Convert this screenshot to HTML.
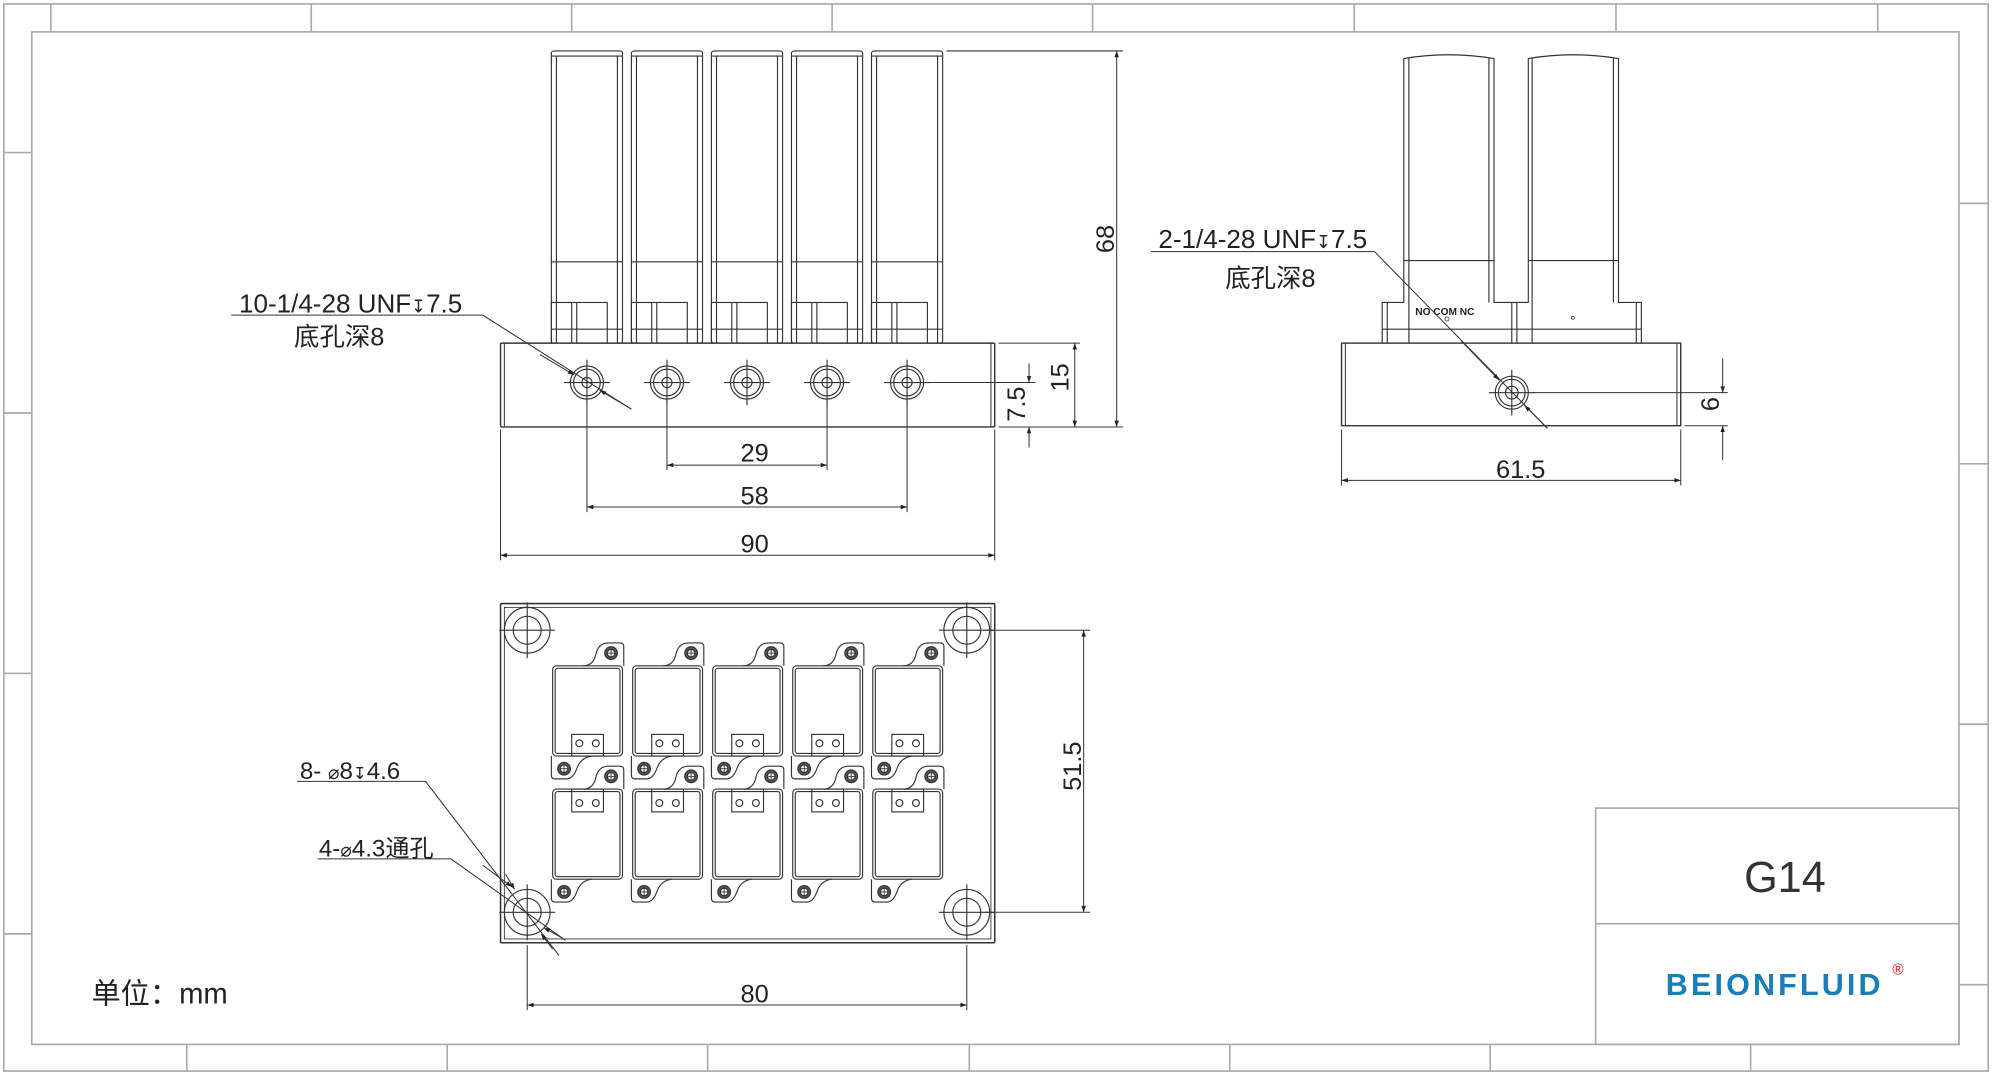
<!DOCTYPE html>
<html><head><meta charset="utf-8"><style>html,body{margin:0;padding:0;background:#fff}svg{display:block}</style></head>
<body>
<svg width="1992" height="1075" viewBox="0 0 1568 846" xmlns="http://www.w3.org/2000/svg" font-family="Liberation Sans, Noto Sans CJK SC, sans-serif">
<defs>
<marker id="a" viewBox="0 0 10 10" refX="10" refY="5" markerWidth="10" markerHeight="5" orient="auto-start-reverse" markerUnits="userSpaceOnUse"><path d="M0,1.5L10,5L0,8.5Z" fill="#222"/></marker>
<g id="tube" fill="none" stroke="#333" stroke-width="0.9">
<rect x="434" y="40" width="56" height="230" rx="2"/>
<line x1="434" y1="44" x2="490" y2="44"/>
<line x1="438" y1="44" x2="438" y2="270"/><line x1="486" y1="44" x2="486" y2="270"/>
<line x1="434" y1="206" x2="490" y2="206"/>
<rect x="434" y="238" width="44" height="32"/>
<line x1="450" y1="238" x2="450" y2="270"/><line x1="454" y1="238" x2="454" y2="270"/>
<line x1="434" y1="259" x2="490" y2="259"/>
</g>
<g id="hole" fill="none" stroke="#333" stroke-width="0.9">
<circle r="13"/><circle r="10.5"/><circle r="4"/>
<line x1="-18" y1="0" x2="18" y2="0"/><line x1="0" y1="-18" x2="0" y2="18"/>
</g>
<g id="scr"><circle r="5" fill="#555"/><circle r="3" fill="#fff"/><line x1="-3" x2="3" stroke="#333" stroke-width="0.7"/><line y1="-3" y2="3" stroke="#333" stroke-width="0.7"/></g>
<g id="mod" fill="none" stroke="#333" stroke-width="0.9">
<rect x="435" y="524" width="55" height="71" rx="3"/><rect x="437" y="526" width="51" height="67" rx="2"/>
<path d="M459,524 Q467,524 469,515 Q471,506 479,506 L488,506 Q491,506 491,509 L491,524"/>
<path d="M434,595 L434,610 Q434,613 437,613 L446,613 Q451,613 454,605 Q457,596 466,595"/>
<rect x="450" y="578" width="25" height="17"/>
<circle cx="456" cy="585" r="2.7"/><circle cx="469" cy="585" r="2.7"/>
<use href="#scr" x="481" y="514"/><use href="#scr" x="444" y="605"/>
<rect x="435" y="621" width="55" height="71" rx="3"/><rect x="437" y="623" width="51" height="67" rx="2"/>
<path d="M459,621 Q467,621 469,612 Q471,603 479,603 L488,603 Q491,603 491,606 L491,621"/>
<path d="M434,692 L434,707 Q434,710 437,710 L446,710 Q451,710 454,702 Q457,693 466,692"/>
<rect x="450" y="621" width="25" height="18"/>
<circle cx="456" cy="632" r="2.7"/><circle cx="469" cy="632" r="2.7"/>
<use href="#scr" x="481" y="611"/><use href="#scr" x="444" y="702"/>
</g>
<g id="ch" fill="none" stroke="#333" stroke-width="0.9"><circle r="18"/><circle r="11"/><line x1="-22" x2="22"/><line y1="-22" y2="22"/></g>
</defs>

<g fill="none" stroke="#aaa" stroke-width="1.3">
<rect x="3" y="3" width="1562" height="840"/>
<rect x="25" y="25" width="1517" height="797"/>
<path d="M40,3V25M245,3V25M450,3V25M655,3V25M860,3V25M1066,3V25M1272,3V25M1478,3V25
M147,822V843M352,822V843M557,822V843M763,822V843M968,822V843M1173,822V843M1378,822V843
M3,120H25M3,325H25M3,530H25M3,735H25
M1542,160H1565M1542,365H1565M1542,570H1565M1542,775H1565"/>
<rect x="1256" y="636" width="286" height="186"/>
<line x1="1256" y1="727" x2="1542" y2="727"/>
</g>
<text x="1405" y="702" font-size="34" fill="#333" text-anchor="middle">G14</text>
<text x="1397" y="783" font-size="24" font-weight="bold" fill="#1a7db8" text-anchor="middle" letter-spacing="2.5">BEIONFLUID</text>
<text x="1494" y="767" font-size="12" fill="#e02020" text-anchor="middle">®</text>

<use href="#tube"/><use href="#tube" x="63"/><use href="#tube" x="126"/><use href="#tube" x="189"/><use href="#tube" x="252"/>
<rect x="394" y="270" width="389" height="66" fill="#fff" stroke="#333" stroke-width="1.1" rx="1"/>
<line x1="397" y1="270" x2="397" y2="336" stroke="#333" stroke-width="0.8"/><line x1="780" y1="270" x2="780" y2="336" stroke="#333" stroke-width="0.8"/>
<use href="#hole" x="462" y="301"/><use href="#hole" x="525" y="301"/><use href="#hole" x="588" y="301"/><use href="#hole" x="651" y="301"/><use href="#hole" x="714" y="301"/>
<g stroke="#333" stroke-width="0.8" fill="none">
<path d="M462,318V403M525,318V370M651,318V370M714,318V403M394,338V441M783,338V441"/>
<path d="M745,40H884M786,270H850M730,301H815M786,336H884"/>
<line x1="525" y1="366" x2="651" y2="366" marker-start="url(#a)" marker-end="url(#a)"/>
<line x1="462" y1="399" x2="714" y2="399" marker-start="url(#a)" marker-end="url(#a)"/>
<line x1="394" y1="437" x2="783" y2="437" marker-start="url(#a)" marker-end="url(#a)"/>
<line x1="879" y1="40" x2="879" y2="336" marker-start="url(#a)" marker-end="url(#a)"/>
<line x1="846" y1="270" x2="846" y2="336" marker-start="url(#a)" marker-end="url(#a)"/>
<line x1="810" y1="286" x2="810" y2="301" marker-end="url(#a)"/>
<line x1="810" y1="352" x2="810" y2="336" marker-end="url(#a)"/>
<path d="M182,248H380L497,322"/>
<line x1="425" y1="279" x2="452" y2="295" marker-end="url(#a)"/>
<line x1="497" y1="322" x2="472" y2="307" marker-end="url(#a)"/>
</g>
<g font-size="20" fill="#222" text-anchor="middle">
<text x="594" y="363">29</text><text x="594" y="397">58</text><text x="594" y="435">90</text>
<text transform="translate(877,188) rotate(-90)">68</text>
<text transform="translate(841,297) rotate(-90)">15</text>
<text transform="translate(807,318) rotate(-90)">7.5</text>
<text x="276" y="246" font-size="20.5">10-1/4-28 UNF<tspan font-family="DejaVu Sans" font-size="14">↧</tspan>7.5</text>
<text x="267" y="272">底孔深8</text>
</g>

<g fill="none" stroke="#333" stroke-width="0.9">
<path d="M1088,270V238H1105V46Q1140,40 1176,46V238H1190"/>
<path d="M1190,238H1203V46Q1238,40 1274,46V238H1292V270"/>
<path d="M1109,46V270M1172,46V238M1206,46V270M1270,46V238M1092,238V270M1190,238V270M1194,238V270M1288,238V270"/>
<path d="M1105,205H1176M1203,205H1274M1088,259H1292"/>
</g>
<text x="1114" y="248" font-size="8" font-weight="bold" fill="#222">NO COM NC</text>
<circle cx="1139" cy="251" r="1.6" fill="none" stroke="#333" stroke-width="0.6"/>
<circle cx="1238" cy="250" r="1.2" fill="none" stroke="#333" stroke-width="0.6"/>
<rect x="1056" y="270" width="267" height="65" fill="#fff" stroke="#333" stroke-width="1.1"/>
<line x1="1059" y1="270" x2="1059" y2="335" stroke="#333" stroke-width="0.8"/><line x1="1320" y1="270" x2="1320" y2="335" stroke="#333" stroke-width="0.8"/>
<g transform="translate(1190,309)" fill="none" stroke="#333" stroke-width="0.9"><circle r="13"/><circle r="10.5"/><circle r="5"/><line x1="-18" x2="18"/><line y1="-18" y2="18"/></g>
<g stroke="#333" stroke-width="0.8" fill="none">
<path d="M1206,309H1360M1326,335H1360M1056,338V382M1323,338V382"/>
<line x1="1056" y1="378" x2="1323" y2="378" marker-start="url(#a)" marker-end="url(#a)"/>
<line x1="1356" y1="282" x2="1356" y2="309" marker-end="url(#a)"/>
<line x1="1356" y1="362" x2="1356" y2="335" marker-end="url(#a)"/>
<path d="M906,198H1082L1218,337"/>
<line x1="1150" y1="268" x2="1180" y2="299" marker-end="url(#a)"/>
<line x1="1218" y1="337" x2="1200" y2="319" marker-end="url(#a)"/>
</g>
<g font-size="20" fill="#222" text-anchor="middle">
<text x="1197" y="376">61.5</text>
<text transform="translate(1353,318) rotate(-90)">6</text>
<text x="994" y="195" font-size="20.5">2-1/4-28 UNF<tspan font-family="DejaVu Sans" font-size="14">↧</tspan>7.5</text>
<text x="1000" y="226">底孔深8</text>
</g>

<rect x="394" y="475" width="389" height="267" fill="#fff" stroke="#333" stroke-width="1.2" rx="1"/>
<rect x="397" y="478" width="383" height="261" fill="none" stroke="#333" stroke-width="0.7"/>
<use href="#ch" x="415" y="496"/><use href="#ch" x="761" y="496"/><use href="#ch" x="415" y="718"/><use href="#ch" x="761" y="718"/>
<use href="#mod"/><use href="#mod" x="63"/><use href="#mod" x="126"/><use href="#mod" x="189"/><use href="#mod" x="252"/>
<g stroke="#333" stroke-width="0.8" fill="none">
<path d="M775,496H858M775,718H858M415,744V795M761,744V795"/>
<line x1="853" y1="496" x2="853" y2="718" marker-start="url(#a)" marker-end="url(#a)"/>
<line x1="415" y1="791" x2="761" y2="791" marker-start="url(#a)" marker-end="url(#a)"/>
<path d="M234,615H335L440,752"/>
<path d="M250,676H355L445,740"/>
<line x1="380" y1="681" x2="403" y2="698" marker-end="url(#a)"/>
<line x1="398" y1="688" x2="405" y2="700" marker-end="url(#a)"/>
<line x1="442" y1="738" x2="428" y2="730" marker-end="url(#a)"/>
<line x1="435" y1="747" x2="426" y2="735" marker-end="url(#a)"/>
</g>
<g font-size="20" fill="#222" text-anchor="middle">
<text transform="translate(851,603) rotate(-90)">51.5</text>
<text x="594" y="789">80</text>
</g>
<text x="236" y="613" font-size="19" fill="#222">8- <tspan font-family="DejaVu Sans" font-size="15">⌀</tspan>8<tspan font-family="DejaVu Sans" font-size="13">↧</tspan>4.6</text>
<text x="251" y="674" font-size="19" fill="#222">4-<tspan font-family="DejaVu Sans" font-size="15">⌀</tspan>4.3通孔</text>
<text x="72" y="790" font-size="23" fill="#222">单位：mm</text>
</svg>
</body></html>
